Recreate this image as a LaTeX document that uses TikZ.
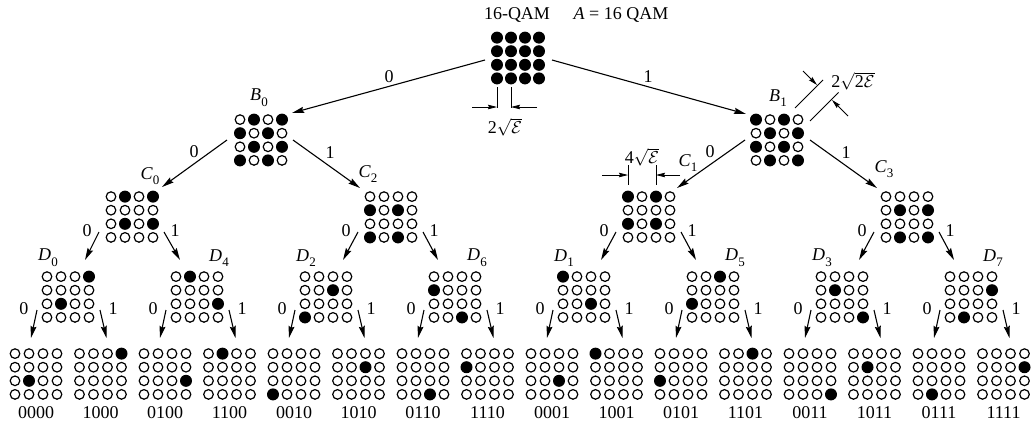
\documentclass[tikz,border=0pt]{standalone}
\usepackage{fontspec}
\setmainfont{Liberation Serif}
\usetikzlibrary{arrows.meta,calc}
\tikzset{
  gridbox/.style={inner sep=0pt, minimum width=56pt, minimum height=54pt},
  hollowdot/.style={line width=1.2pt},
  link/.style={line width=1.1pt, -{Stealth[length=12pt,width=6pt,inset=1.5pt]}},
  dimtip/.style={line width=0.8pt, -{Stealth[length=9pt,width=4.5pt,inset=1pt]}},
  dimline/.style={line width=0.8pt},
  lbl/.style={font=\fontsize{18}{20}\selectfont, inner sep=0pt},
}
\newcommand\qgrid[4]{%
  \node[gridbox] (#1) at (#2,#3) {};
  \foreach \cc in {0,1,2,3}{\foreach \rr in {0,1,2,3}{
    \draw[hollowdot] (#2-21+14*\cc,#3-20.4+13.6*\rr) circle[radius=4.8pt];}}
  \foreach \fr/\fc in {#4}{
    \fill (#2-35+14*\fc,#3-34+13.6*\fr) circle[radius=6pt];}
}
\newcommand\setlab[2]{\textit{#1}\kern0.3pt\raisebox{-0.32em}{\fontsize{13}{13}\selectfont #2}}
\begin{document}
\begin{tikzpicture}[x=1pt,y=-1pt]
\useasboundingbox (0,0) rectangle (1033,424);

% titles
\node[lbl] (t16) at (517,15) {16-QAM};
\node[lbl] (tA) at (621,15) {\textit{A} = 16 QAM};

% grids
\qgrid{top}{518}{58}{1/1,1/2,1/3,1/4,2/1,2/2,2/3,2/4,3/1,3/2,3/3,3/4,4/1,4/2,4/3,4/4}
\qgrid{B0}{261}{140}{1/2,1/4,2/1,2/3,3/2,3/4,4/1,4/3}
\qgrid{B1}{777}{140}{1/1,1/3,2/2,2/4,3/1,3/3,4/2,4/4}
\qgrid{C0}{132}{217}{1/2,1/4,3/2,3/4}
\qgrid{C2}{391}{217}{2/1,2/3,4/1,4/3}
\qgrid{C1}{649}{217}{1/1,1/3,3/1,3/3}
\qgrid{C3}{907}{217}{2/2,2/4,4/2,4/4}
\qgrid{D0}{68}{297}{1/4,3/2}
\qgrid{D4}{197}{297}{1/2,3/4}
\qgrid{D2}{326}{297}{2/3,4/1}
\qgrid{D6}{455}{297}{2/1,4/3}
\qgrid{D1}{584}{297}{1/1,3/3}
\qgrid{D5}{713}{297}{1/3,3/1}
\qgrid{D3}{842}{297}{2/2,4/4}
\qgrid{D7}{971}{297}{2/4,4/2}

% leaves
\foreach \i/\lab/\pr/\pc in {0/0000/3/2, 1/1000/1/4, 2/0100/3/4, 3/1100/1/2,
  4/0010/4/1, 5/1010/2/3, 6/0110/4/3, 7/1110/2/1,
  8/0001/3/3, 9/1001/1/1, 10/0101/3/1, 11/1101/1/3,
  12/0011/4/4, 13/1011/2/2, 14/0111/4/2, 15/1111/2/4}{
  \qgrid{L\i}{36+64.5*\i}{374}{\pr/\pc}
  \node[lbl] (N\i) at (36+64.5*\i,413) {\lab};
}

% set labels
\node[lbl] (lB0) at ($(B0.center)+(-2,-42)$) {\setlab{B}{0}};
\node[lbl] (lB1) at ($(B1.center)+(1,-42)$) {\setlab{B}{1}};
\node[lbl] (lC0) at ($(C0.center)+(18,-41)$) {\setlab{C}{0}};
\node[lbl] (lC2) at ($(C2.center)+(-23,-43)$) {\setlab{C}{2}};
\node[lbl] (lC1) at ($(C1.center)+(39,-54)$) {\setlab{C}{1}};
\node[lbl] (lC3) at ($(C3.center)+(-23,-48)$) {\setlab{C}{3}};
\foreach \d in {0,2,1,3}{\node[lbl] (lD\d) at ($(D\d.center)+(-20,-39)$) {\setlab{D}{\d}};}
\foreach \d in {4,6,5,7}{\node[lbl] (lD\d) at ($(D\d.center)+(22,-39)$) {\setlab{D}{\d}};}

% level 1
\draw[link] ($(top.center)+(-33,2)$) -- ($(B0.center)+(31,-27)$);
\draw[link] ($(top.center)+(34,2)$) -- ($(B1.center)+(-31,-26)$);
\node[lbl] (e00) at (389,77) {0};
\node[lbl] (e01) at (648,77) {1};

% level 2
\draw[link] ($(B0.center)+(-34,0)$) -- ($(C0.center)+(30,-30)$);
\draw[link] ($(B0.center)+(32,0)$) -- ($(C2.center)+(-31,-29)$);
\draw[link] ($(B1.center)+(-32,0)$) -- ($(C1.center)+(28,-29)$);
\draw[link] ($(B1.center)+(33,0)$) -- ($(C3.center)+(-30,-29)$);
\foreach \b in {B0,B1}{
  \node[lbl] (z\b) at ($(\b.center)+(-67,12)$) {0};
  \node[lbl] (o\b) at ($(\b.center)+(69,13)$) {1};
}

% level 3
\foreach \c/\l/\r in {C0/D0/D4, C2/D2/D6, C1/D1/D5, C3/D3/D7}{
  \draw[link] ($(\c.center)+(-33,15)$) -- ($(\l.center)+(17,-37)$);
  \draw[link] ($(\c.center)+(32,15)$) -- ($(\r.center)+(-17,-37)$);
  \node[lbl] (z\c) at ($(\c.center)+(-45,14)$) {0};
  \node[lbl] (o\c) at ($(\c.center)+(43,14)$) {1};
}

% level 4
\foreach \d/\l/\r in {D0/L0/L1, D4/L2/L3, D2/L4/L5, D6/L6/L7, D1/L8/L9, D5/L10/L11, D3/L12/L13, D7/L14/L15}{
  \draw[link] ($(\d.center)+(-31,13)$) -- ($(\l.center)+(-5,-36)$);
  \draw[link] ($(\d.center)+(32,13)$) -- ($(\r.center)+(6,-36)$);
  \node[lbl] (z\d) at ($(\d.center)+(-44,12)$) {0};
  \node[lbl] (o\d) at ($(\d.center)+(45,12)$) {1};
}

% dimension 2 sqrt E under top grid
\draw[dimline] ($(top.center)+(-21,29)$) -- ($(top.center)+(-21,50)$);
\draw[dimline] ($(top.center)+(-7,29)$) -- ($(top.center)+(-7,50)$);
\draw[dimtip] ($(top.center)+(-46,49)$) -- ($(top.center)+(-21,49)$);
\draw[dimtip] ($(top.center)+(19,49)$) -- ($(top.center)+(-7,49)$);
\node[lbl] (d1) at ($(top.center)+(-13,69)$) {2$\sqrt{\mathcal{E}}$};

% dimension 4 sqrt E above C1
\draw[dimline] ($(C1.center)+(-21,-52)$) -- ($(C1.center)+(-21,-32)$);
\draw[dimline] ($(C1.center)+(7,-52)$) -- ($(C1.center)+(7,-32)$);
\draw[dimtip] ($(C1.center)+(-47,-42)$) -- ($(C1.center)+(-21,-42)$);
\draw[dimtip] ($(C1.center)+(31,-42)$) -- ($(C1.center)+(7,-42)$);
\node[lbl] (d2) at ($(C1.center)+(-7,-60)$) {4$\sqrt{\mathcal{E}}$};

% dimension 2 sqrt(2E) at B1
\draw[dimline] ($(B1.center)+(18,-32)$) -- ($(B1.center)+(46,-60)$);
\draw[dimline] ($(B1.center)+(33,-19)$) -- ($(B1.center)+(61.5,-47.5)$);
\draw[dimtip] ($(B1.center)+(26,-69)$) -- ($(B1.center)+(40,-55)$);
\draw[dimtip] ($(B1.center)+(71,-24)$) -- ($(B1.center)+(55,-40)$);
\node[lbl] (d3) at ($(B1.center)+(76,-59)$) {2$\sqrt{\mbox{2}\mathcal{E}}$};
\end{tikzpicture}
\end{document}
